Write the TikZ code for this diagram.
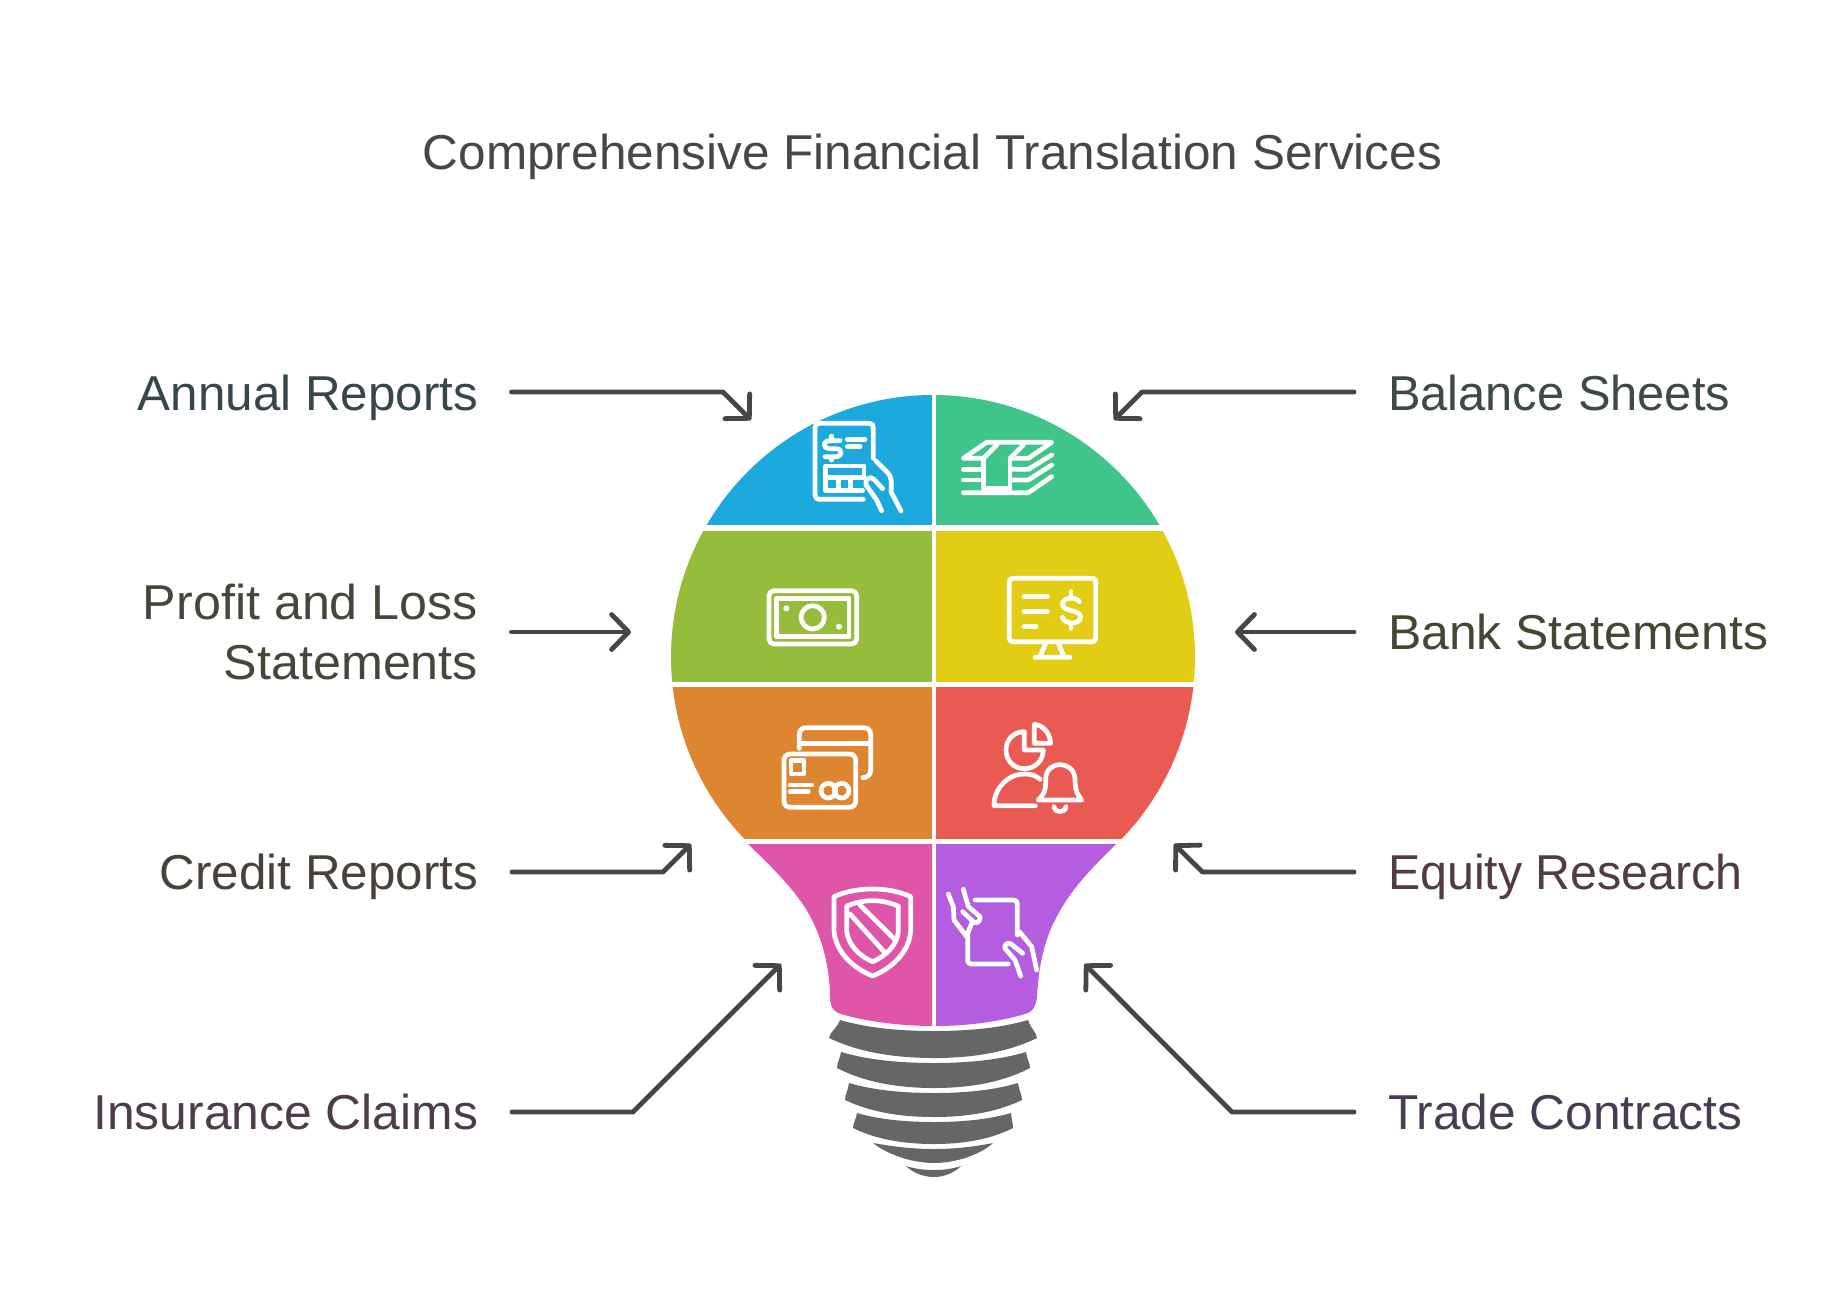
\documentclass[tikz,border=0pt]{standalone}
\usepackage{fontspec}
\setmainfont{Liberation Sans}
\usetikzlibrary{arrows.meta}
\definecolor{cBlue}{HTML}{1CAADC}
\definecolor{cGreen}{HTML}{3FC48A}
\definecolor{cLime}{HTML}{95BC3A}
\definecolor{cYellow}{HTML}{E2CD14}
\definecolor{cOrange}{HTML}{DE8530}
\definecolor{cRed}{HTML}{E85A52}
\definecolor{cPink}{HTML}{DF56A8}
\definecolor{cPurple}{HTML}{B45DE0}
\definecolor{cBase}{HTML}{666666}
\definecolor{cArrow}{HTML}{464646}
\newcommand{\labfont}[1]{\fontsize{49}{60}\selectfont\addfontfeature{FakeStretch=#1}}
\newcommand{\bulbband}[8]{%
  \fill[basefill] (#1,#3)
    .. controls ({#1+.3*(934-#1)},{#3+.75*(#4-#3)}) and ({#1+.65*(934-#1)},#4) .. (934,#4)
    .. controls ({934+.35*(#2-934)},#4) and ({#2-.3*(#2-934)},{#3+.75*(#4-#3)}) .. (#2,#3)
    .. controls ({#2+.2*(#6-#2)},{#3+.4*(#7-#3)}) and (#6,{#7-5}) .. (#6,#7)
    .. controls ({#6-.3*(#6-934)},{#7+.75*(#8-#7)}) and ({934+.35*(#6-934)},#8) .. (934,#8)
    .. controls ({934-.35*(934-#5)},#8) and ({#5+.3*(934-#5)},{#7+.75*(#8-#7)}) .. (#5,#7)
    .. controls (#5,{#7-5}) and ({#1-.2*(#1-#5)},{#3+.4*(#7-#3)}) .. (#1,#3) -- cycle;}
\tikzset{
  x=1pt,y=-1pt,
  basefill/.style={fill=cBase},
  heading/.style={inner sep=0pt,outer sep=0pt,text=black!72},
  lefttext/.style={inner sep=0pt,outer sep=0pt,anchor=base east,align=right},
  righttext/.style={inner sep=0pt,outer sep=0pt,anchor=base west},
  conn/.style={draw=cArrow,line width=4.8pt,line cap=round,line join=round,
    -{Straight Barb[length=17pt,width=35pt,round,line width=4.8pt]}},
  iconline/.style={draw=white,line width=4.7pt,line cap=round,line join=round,fill=none},
  zoomA/.style={shift={(660,380)},x=.33333pt,y=-.33333pt},
  zoomB/.style={shift={(930,380)},x=.33333pt,y=-.33333pt},
  zoomC/.style={shift={(660,690)},x=.33333pt,y=-.33333pt},
  zoomD/.style={shift={(930,690)},x=.33333pt,y=-.33333pt},
}
\begin{document}
\begin{tikzpicture}
\useasboundingbox[fill=white] (0,0) rectangle (1835,1303);

% title
\node[heading,anchor=base,font=\labfont{1.0105}] (title) at (932.5,169) {Comprehensive Financial Translation Services};

% bulb head
\begin{scope}
  \clip (933,657) circle (262);
  \fill[cBlue]   (660,390) rectangle (932,525);
  \fill[cGreen]  (936,390) rectangle (1200,525);
  \fill[cLime]   (660,531) rectangle (932,682);
  \fill[cYellow] (936,531) rectangle (1200,682);
  \fill[cOrange] (660,687) rectangle (932,839);
  \fill[cRed]    (936,687) rectangle (1200,839);
\end{scope}
% bulb neck
\fill[cPink] (932,844) -- (748,844)
  .. controls (775,870) and (800,895) .. (812,920)
  .. controls (825,945) and (830,975) .. (830,997)
  .. controls (830,1005) and (832,1010) .. (838,1013)
  .. controls (865,1022) and (905,1026) .. (932,1026) -- cycle;
\fill[cPurple] (936,844) -- (1116,844)
  .. controls (1090,870) and (1070,890) .. (1055,920)
  .. controls (1042,945) and (1038,975) .. (1037,997)
  .. controls (1036,1005) and (1034,1010) .. (1028,1013)
  .. controls (1000,1022) and (965,1026) .. (936,1026) -- cycle;
% screw base
\bulbband{840}{1028}{1020}{1031}{829}{1037}{1038}{1058}
\bulbband{841}{1026}{1052}{1063}{837}{1030}{1068}{1088}
\bulbband{849}{1018}{1083}{1093}{845}{1022}{1100}{1117}
\bulbband{857}{1011}{1113}{1122}{853}{1013}{1128}{1144}
\fill[basefill] (873,1143) .. controls (895,1147) and (915,1149) .. (934,1149)
  .. controls (953,1149) and (973,1147) .. (993,1143)
  .. controls (980,1155) and (955,1163) .. (934,1163)
  .. controls (913,1163) and (888,1155) .. (873,1143) -- cycle;
\fill[basefill] (906,1166) .. controls (915,1169) and (925,1170) .. (934,1170)
  .. controls (943,1170) and (952,1169) .. (961,1166)
  .. controls (954,1173) and (944,1177) .. (934,1177)
  .. controls (924,1177) and (913,1173) .. (906,1166) -- cycle;

% icon: report with hand
\begin{scope}[zoomA]
  \draw[iconline] (610,358) -- (478,358) .. controls (470,358) and (465,353) .. (465,345)
    -- (465,143) .. controls (465,135) and (470,130) .. (478,130) -- (628,130)
    .. controls (636,130) and (640,135) .. (640,143) -- (640,235);
  \draw[iconline] (540,182) -- (507,182) .. controls (488,182) and (488,206) .. (507,206)
    -- (528,206) .. controls (548,206) and (548,230) .. (528,230) -- (495,230);
  \draw[iconline] (515,168) -- (515,178) (515,234) -- (515,240);
  \draw[iconline] (562,178) -- (615,178) (562,200) -- (600,200);
  \draw[iconline] (612,290) -- (612,258) -- (497,258) -- (497,332) -- (608,332);
  \draw[iconline] (497,292) -- (612,292) (535,292) -- (535,332) (572,292) -- (572,332);
  \draw[iconline] (648,243) -- (685,280) .. controls (695,292) and (695,310) .. (693,335) -- (723,393);
  \draw[iconline] (665,392) -- (650,360) -- (618,315) .. controls (612,300) and (630,285) .. (642,298) -- (668,326);
\end{scope}

% icon: banknote
\begin{scope}[zoomA]
  \draw[iconline,rounded corners=5pt] (327,632) rectangle (590,792);
  \draw[iconline] (350,655) rectangle (567,770);
  \draw[iconline] (458,712) circle (35);
  \fill[white] (379,685) circle (9) (537,740) circle (9);
\end{scope}

% icon: stack of notes
\begin{scope}[zoomB]
  \draw[iconline] (160,235) -- (100,235) -- (170,187) -- (365,187) -- (295,235) -- (245,235);
  \draw[iconline] (160,235) -- (200,195) (240,235) -- (280,195);
  \draw[iconline] (160,235) -- (160,325) -- (240,325) -- (240,235);
  \draw[iconline] (100,268) -- (155,268) (100,300) -- (155,300);
  \draw[iconline] (245,268) -- (295,268) -- (365,225) (245,300) -- (295,300) -- (365,255);
  \draw[iconline] (100,338) -- (295,338) -- (365,290);
\end{scope}

% icon: monitor with dollar
\begin{scope}[zoomB]
  \draw[iconline,rounded corners=3pt] (238,595) rectangle (497,785);
  \draw[iconline] (282,650) -- (352,650) (282,695) -- (352,695) (282,740) -- (318,740);
  \draw[iconline] (448,665) .. controls (440,650) and (400,650) .. (397,672)
    .. controls (395,695) and (450,688) .. (452,710)
    .. controls (452,735) and (405,735) .. (397,712);
  \draw[iconline] (423,635) -- (423,648) (423,732) -- (423,745);
  \draw[iconline] (347,790) -- (330,830) (385,790) -- (402,830) (315,832) -- (420,832);
\end{scope}

% icon: credit cards
\begin{scope}[zoomC]
  \draw[iconline] (418,175) -- (418,135) .. controls (418,120) and (425,113) .. (440,113) -- (610,113)
    .. controls (625,113) and (632,120) .. (632,135) -- (632,240) .. controls (632,255) and (622,263) .. (608,263);
  \draw[iconline] (418,160) -- (632,160);
  \draw[iconline,rounded corners=6pt] (372,192) rectangle (587,352);
  \draw[iconline] (393,212) rectangle (432,252);
  \draw[iconline] (390,285) -- (455,285) (390,305) -- (445,305);
  \draw[iconline] (505,302) circle (22) (545,302) circle (22);
\end{scope}

% icon: shield
\begin{scope}[zoomC]
  \draw[iconline] (638,597) .. controls (595,597) and (555,605) .. (522,620) -- (522,720)
    .. controls (525,785) and (580,835) .. (638,858)
    .. controls (695,835) and (750,785) .. (752,720) -- (752,620)
    .. controls (720,605) and (680,597) .. (638,597) -- cycle;
  \draw[iconline] (638,632) .. controls (610,632) and (585,638) .. (560,648) -- (560,725)
    .. controls (565,765) and (600,800) .. (638,815)
    .. controls (675,800) and (712,765) .. (715,725) -- (715,648)
    .. controls (690,638) and (665,632) .. (638,632) -- cycle;
  \draw[iconline] (570,672) -- (672,785) (600,645) -- (708,752);
\end{scope}

% icon: person with pie and bell
\begin{scope}[zoomD]
  \draw[iconline] (283,125) .. controls (250,125) and (228,150) .. (228,180)
    .. controls (228,212) and (252,236) .. (283,236)
    .. controls (315,236) and (340,212) .. (340,180) -- (283,180) -- cycle;
  \draw[iconline] (313,103) .. controls (340,105) and (360,130) .. (362,160) -- (313,160) -- cycle;
  \draw[iconline] (316,347) -- (192,347) .. controls (192,290) and (240,250) .. (285,252)
    .. controls (305,252) and (320,258) .. (330,268);
  \draw[iconline] (325,330) -- (455,330) -- (448,320) .. controls (436,305) and (435,285) .. (435,265)
    .. controls (430,210) and (350,210) .. (347,265)
    .. controls (347,285) and (348,305) .. (334,320) -- (325,330);
  \draw[iconline] (372,350) .. controls (375,370) and (405,370) .. (408,350);
\end{scope}

% icon: tablet held by hands
\begin{scope}[zoomD]
  \draw[iconline] (135,630) -- (250,630) .. controls (258,630) and (262,634) .. (262,642) -- (262,735);
  \draw[iconline] (125,700) -- (113,730) -- (113,812) .. controls (113,819) and (118,822) .. (125,822) -- (235,822);
  \draw[iconline] (55,612) -- (70,650) -- (72,690) -- (110,740);
  \draw[iconline] (100,598) -- (115,650) -- (150,680) .. controls (152,692) and (142,702) .. (132,697) -- (98,665);
  \draw[iconline] (268,725) -- (305,770) -- (320,840);
  \draw[iconline] (272,858) -- (255,810) -- (225,775) .. controls (222,765) and (232,755) .. (243,762) -- (278,790);
\end{scope}

% labels
\node[lefttext,font=\labfont{1.007},text={rgb,255:red,54;green,70;blue,74}] (annual) at (478,410) {Annual Reports};
\node[lefttext,font=\labfont{1.025},text={rgb,255:red,68;green,72;blue,58}] (profit) at (478,679) {Profit and Loss\\Statements};
\node[lefttext,font=\labfont{1.007},text={rgb,255:red,72;green,66;blue,58}] (credit) at (478,889) {Credit Reports};
\node[lefttext,font=\labfont{1.016},text={rgb,255:red,78;green,60;blue,74}] (insurance) at (478,1129) {Insurance Claims};
\node[righttext,font=\labfont{0.997},text={rgb,255:red,62;green,74;blue,70}] (balance) at (1388,410) {Balance Sheets};
\node[righttext,font=\labfont{1.019},text={rgb,255:red,70;green,70;blue,50}] (bank) at (1388,649) {Bank Statements};
\node[righttext,font=\labfont{0.987},text={rgb,255:red,82;green,60;blue,64}] (equity) at (1388,889) {Equity Research};
\node[righttext,font=\labfont{1.014},text={rgb,255:red,72;green,60;blue,84}] (trade) at (1388,1129) {Trade Contracts};

% connector ends
\coordinate (annualOut) at (511.5,392);  \coordinate (annualBend) at (723,392);  \coordinate (annualTip) at (751,420);
\coordinate (profitOut) at (511.5,632);  \coordinate (profitTip) at (631,632);
\coordinate (creditOut) at (512,872);    \coordinate (creditBend) at (663,872);  \coordinate (creditTip) at (691,844);
\coordinate (insuranceOut) at (512,1112);\coordinate (insuranceBend) at (633,1112);\coordinate (insuranceTip) at (781,964);
\coordinate (balanceOut) at (1354,392);  \coordinate (balanceBend) at (1142,392);\coordinate (balanceTip) at (1114,420);
\coordinate (bankOut) at (1354,632);     \coordinate (bankTip) at (1235,632);
\coordinate (equityOut) at (1354,872);   \coordinate (equityBend) at (1202.5,872);\coordinate (equityTip) at (1174,844);
\coordinate (tradeOut) at (1354,1112);   \coordinate (tradeBend) at (1232,1112); \coordinate (tradeTip) at (1084.5,964);

\draw[conn] (annualOut) -- (annualBend) -- (annualTip);
\draw[conn] (profitOut) -- (profitTip);
\draw[conn] (creditOut) -- (creditBend) -- (creditTip);
\draw[conn] (insuranceOut) -- (insuranceBend) -- (insuranceTip);
\draw[conn] (balanceOut) -- (balanceBend) -- (balanceTip);
\draw[conn] (bankOut) -- (bankTip);
\draw[conn] (equityOut) -- (equityBend) -- (equityTip);
\draw[conn] (tradeOut) -- (tradeBend) -- (tradeTip);
\end{tikzpicture}
\end{document}
